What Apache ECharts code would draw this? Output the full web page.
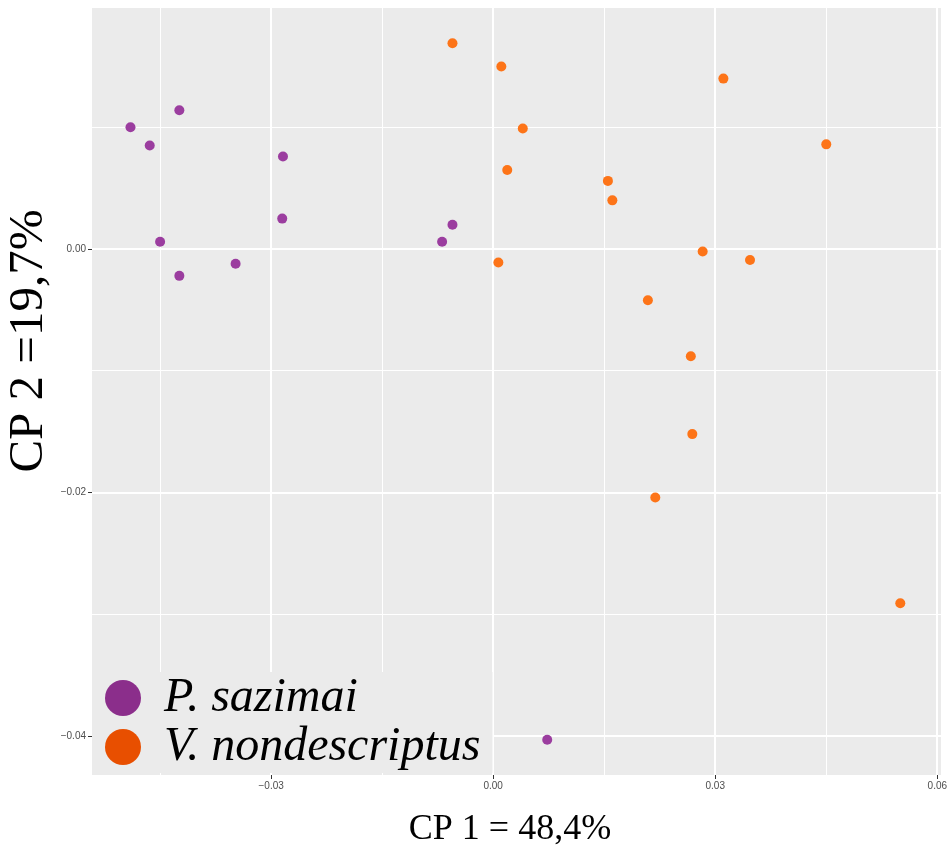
<!DOCTYPE html>
<html>
<head>
<meta charset="utf-8">
<script src="https://cdn.jsdelivr.net/npm/echarts@6/dist/echarts.min.js"></script>
<style>
  html, body { margin: 0; padding: 0; background: #ffffff; }
  #chart { width: 952px; height: 847px; }
</style>
</head>
<body>
<div id="chart"></div>
<script>
// PCA scores: [CP 1, CP 2] for each specimen
const speciesNames = ['P. sazimai', 'V. nondescriptus'];

const sazimaiScores = [
  [-0.0424, 0.0114], [-0.0490, 0.0100], [-0.0464, 0.0085], [-0.0284, 0.0076],
  [-0.0285, 0.0025], [-0.0450, 0.0006], [-0.0348, -0.0012], [-0.0424, -0.0022],
  [-0.0055, 0.0020], [-0.0069, 0.0006], [0.0073, -0.0403]
];

const nondescriptusScores = [
  [-0.0055, 0.0169], [0.0011, 0.0150], [0.0040, 0.0099], [0.0019, 0.0065],
  [0.0155, 0.0056], [0.0161, 0.0040], [0.0007, -0.0011], [0.0311, 0.0140],
  [0.0450, 0.0086], [0.0283, -0.0002], [0.0347, -0.0009], [0.0209, -0.0042],
  [0.0267, -0.0088], [0.0269, -0.0152], [0.0219, -0.0204], [0.0550, -0.0291]
];

// Axis ticks and panel grid positions
const xTicks = [-0.03, 0.00, 0.03, 0.06];
const xMinorGrid = [-0.045, -0.015, 0.015, 0.045];
const yTicks = [-0.04, -0.02, 0.00];
const yMinorGrid = [-0.03, -0.01, 0.01];
const xRange = [-0.0542, 0.0605];
const yRange = [-0.0432, 0.0198];

const pointColors = ['#9b3d9f', '#fd7418'];
const keyColors = ['#8b2e8b', '#e84f00'];

const fmt = v => (v < 0 ? '\u2212' : '') + Math.abs(v).toFixed(2);

// Panel grid entries: [axis value, 1 = vertical / 0 = horizontal, stroke width in px]
const gridEntries = [
  ...xMinorGrid.map(v => [v, 1, 1]),
  ...yMinorGrid.map(v => [v, 0, 1]),
  ...xTicks.map(v => [v, 1, 2]),
  ...yTicks.map(v => [v, 0, 2])
];

// Each grid line is a white rectangle snapped to whole pixels across the panel
function renderGridLine(params, api) {
  const v = api.value(0);
  const vertical = api.value(1) === 1;
  const w = api.value(2);
  if (vertical) {
    const top = api.coord([v, yRange[1]]);
    const bottom = api.coord([v, yRange[0]]);
    const x0 = Math.round(top[0] - w / 2);
    return {
      type: 'rect',
      shape: { x: x0, y: top[1], width: w, height: bottom[1] - top[1] },
      style: { fill: '#ffffff' }
    };
  }
  const left = api.coord([xRange[0], v]);
  const right = api.coord([xRange[1], v]);
  const y0 = Math.round(left[1] - w / 2);
  return {
    type: 'rect',
    shape: { x: left[0], y: y0, width: right[0] - left[0], height: w },
    style: { fill: '#ffffff' }
  };
}

const tickLabelStyle = {
  formatter: fmt, margin: 6,
  color: '#4d4d4d', fontSize: 10, fontFamily: 'Liberation Sans'
};

const chart = echarts.init(document.getElementById('chart'), null, { renderer: 'canvas' });

chart.setOption({
  animation: false,
  grid: {
    left: 92, right: 11, top: 8, bottom: 72,
    show: true, backgroundColor: '#ebebeb', borderWidth: 0
  },
  xAxis: {
    type: 'value',
    position: 'bottom',
    min: xRange[0], max: xRange[1],
    splitLine: { show: false },
    axisLine: { show: false, onZero: false },
    axisTick: { show: true, length: 4, customValues: xTicks, lineStyle: { color: '#333333', width: 1 } },
    axisLabel: { ...tickLabelStyle, customValues: xTicks }
  },
  yAxis: {
    type: 'value',
    position: 'left',
    min: yRange[0], max: yRange[1],
    splitLine: { show: false },
    axisLine: { show: false, onZero: false },
    axisTick: { show: true, length: 4, customValues: yTicks, lineStyle: { color: '#333333', width: 1 } },
    axisLabel: { ...tickLabelStyle, customValues: yTicks }
  },
  legend: {
    orient: 'vertical',
    left: 92, top: 672,
    padding: [2, 12, 2, 13],
    backgroundColor: '#ebebeb',
    itemWidth: 36, itemHeight: 36, itemGap: 1,
    selectedMode: false,
    z: 10,
    textStyle: {
      fontFamily: 'Liberation Serif', fontStyle: 'italic', fontSize: 48,
      lineHeight: 46, color: '#000000', padding: [0, 0, 0, 18]
    },
    data: speciesNames.map((n, i) => ({ name: n, icon: 'circle', itemStyle: { color: keyColors[i] } }))
  },
  series: [
    {
      name: 'panel grid',
      type: 'custom',
      coordinateSystem: 'cartesian2d',
      z: 2,
      silent: true,
      animation: false,
      clip: false,
      renderItem: renderGridLine,
      data: gridEntries
    },
    {
      name: speciesNames[0],
      type: 'scatter',
      z: 3,
      symbolSize: 10,
      itemStyle: { color: pointColors[0], opacity: 1 },
      data: sazimaiScores
    },
    {
      name: speciesNames[1],
      type: 'scatter',
      z: 3,
      symbolSize: 10,
      itemStyle: { color: pointColors[1], opacity: 1 },
      data: nondescriptusScores
    }
  ],
  graphic: [
    {
      type: 'text',
      x: 510, y: 830,
      style: {
        text: 'CP 1 = 48,4%',
        font: '36px "Liberation Serif"',
        fill: '#000000',
        align: 'center', verticalAlign: 'middle'
      }
    },
    {
      type: 'text',
      x: 29, y: 341,
      rotation: Math.PI / 2,
      style: {
        text: 'CP 2 =19,7%',
        font: '49px "Liberation Serif"',
        fill: '#000000',
        align: 'center', verticalAlign: 'middle'
      }
    }
  ]
});
</script>
</body>
</html>
